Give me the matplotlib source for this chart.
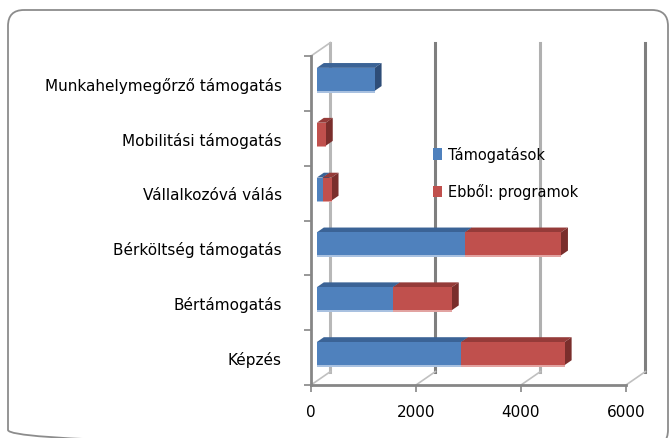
import matplotlib.pyplot as plt
from matplotlib.patches import Polygon, Rectangle, FancyBboxPatch

plt.rcParams['font.family'] = ['Liberation Sans Narrow', 'DejaVu Sans']

categories = ["Képzés", "Bértámogatás", "Bérköltség támogatás",
              "Vállalkozóvá válás", "Mobilitási támogatás",
              "Munkahelymegőrző támogatás"]
tamogatasok = [2750, 1450, 2820, 110, 0, 1100]
programok = [1970, 1120, 1830, 170, 170, 0]
series_names = ["Támogatások", "Ebből: programok"]
xticks = [0, 2000, 4000, 6000]

# colours: front, top, side, light edge
blue = ("#4F81BD", "#3B6396", "#2E4D78", "#A9C1E0")
red = ("#C0504D", "#953B39", "#7A2E2C", "#E2A3A1")

fig = plt.figure(figsize=(6.7, 4.39), dpi=100)
W, H = 670, 439

# rounded chart border, drawn in pixel units on a background axes
bg = fig.add_axes([0, 0, 1, 1], zorder=-1)
bg.set_xlim(0, W)
bg.set_ylim(H, 0)
bg.axis("off")
bg.add_patch(FancyBboxPatch((8, 11), 660, 436, boxstyle="round,pad=0,rounding_size=16",
                            fill=False, edgecolor="#8c8c8c", linewidth=1.3))

ax = fig.add_axes([311 / W, (H - 386) / H, 315 / W, 329 / H])
ax.set_xlim(0, 6000)
ax.set_ylim(0, 6)

# depth of the 3D box in data units
DX, DY = 370, 0.245
f0, f1 = 0.3, 0.66
bh = 0.42

grid_cols = ["#b8b8b8", "#7f7f7f", "#b0b0b0", "#7f7f7f"]
for x, gc in zip(xticks, grid_cols):
    ax.plot([x + DX, x + DX], [DY, 6 + DY], color=gc, lw=2.2, clip_on=False, zorder=1)
    ax.plot([x, x + DX], [0, DY], color="#c0c0c0", lw=1.2, clip_on=False, zorder=1)
ax.plot([0, DX], [6, 6 + DY], color="#c0c0c0", lw=1.2, clip_on=False, zorder=1)


def draw_seg(c, left, val, cols):
    if val <= 0:
        return
    x0 = left + f0 * DX
    x1 = x0 + val
    yb = c - bh / 2 + f0 * DY
    yt = c + bh / 2 + f0 * DY
    ddx, ddy = (f1 - f0) * DX, (f1 - f0) * DY
    ax.add_patch(Polygon([(x0, yt), (x1, yt), (x1 + ddx, yt + ddy), (x0 + ddx, yt + ddy)],
                         closed=True, facecolor=cols[1], edgecolor="none", zorder=2, clip_on=False))
    ax.add_patch(Polygon([(x1, yb), (x1, yt), (x1 + ddx, yt + ddy), (x1 + ddx, yb + ddy)],
                         closed=True, facecolor=cols[2], edgecolor="none", zorder=2, clip_on=False))
    ax.add_patch(Rectangle((x0, yb), val, bh, facecolor=cols[0], edgecolor="none",
                           zorder=3, clip_on=False))
    ax.add_patch(Rectangle((x0, yb - 0.03), val, 0.03, facecolor=cols[3],
                           edgecolor="none", zorder=3, clip_on=False))


for i in range(len(categories)):
    c = i + 0.5
    draw_seg(c, 0, tamogatasok[i], blue)
    draw_seg(c, tamogatasok[i], programok[i], red)

for s in ["top", "right"]:
    ax.spines[s].set_visible(False)
for s in ["left", "bottom"]:
    ax.spines[s].set_color("#868686")
    ax.spines[s].set_linewidth(2)
    ax.spines[s].set_zorder(4)

ax.set_yticks([i + 0.5 for i in range(len(categories))])
ax.set_yticklabels(categories, fontsize=11)
ax.set_yticks(range(7), minor=True)
ax.tick_params(axis="y", which="major", length=0, pad=21)
ax.tick_params(axis="y", which="minor", length=5, width=1.2, color="#868686")
ax.set_xticks(xticks)
ax.set_xticklabels([str(x) for x in xticks], fontsize=11)
ax.tick_params(axis="x", length=5, width=1.2, color="#868686", pad=9)

handles = [Rectangle((0, 0), 1, 1, facecolor=blue[0]), Rectangle((0, 0), 1, 1, facecolor=red[0])]
fig.legend(handles, series_names, loc="upper left", bbox_to_anchor=(420 / W, (H - 134) / H),
           frameon=False, fontsize=10.5, handlelength=0.6, handleheight=0.8,
           handletextpad=0.4, labelspacing=1.45)

fig.savefig("out.png", dpi=100)
